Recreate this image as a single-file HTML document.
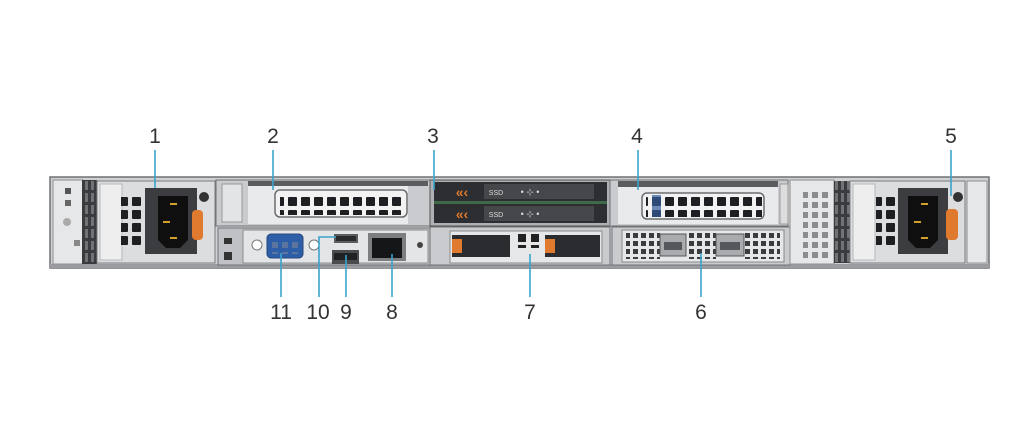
<!DOCTYPE html>
<html><head><meta charset="utf-8"><style>
html,body{margin:0;padding:0;background:#fff;}
svg{display:block;}
text{font-family:"Liberation Sans",sans-serif;font-size:21px;fill:#333;text-anchor:middle;}
</style></head><body>
<svg width="1024" height="427" viewBox="0 0 1024 427" xmlns="http://www.w3.org/2000/svg">
<defs>
<pattern id="g1" x="0" y="0" width="13" height="13" patternUnits="userSpaceOnUse"><rect x="2" y="2" width="9" height="9" rx="1" fill="#1e1f22"/></pattern>
<pattern id="g2" x="0" y="0" width="8" height="8" patternUnits="userSpaceOnUse"><rect x="1" y="1" width="5" height="5" fill="#3a3c40"/></pattern>
<pattern id="g3" x="0" y="0" width="14" height="14" patternUnits="userSpaceOnUse"><rect x="2" y="2" width="10" height="10" fill="#202226"/></pattern>
<pattern id="g4" x="0" y="0" width="10" height="10" patternUnits="userSpaceOnUse"><rect x="2" y="2" width="6" height="6" fill="#8a8c90"/></pattern>
<pattern id="vent" x="0" y="0" width="6" height="12" patternUnits="userSpaceOnUse"><rect width="6" height="12" fill="#3a3b3e"/><rect x="1" y="1" width="3" height="9" fill="#707276"/></pattern>
</defs>
<!-- chassis -->
<rect x="50" y="177" width="939" height="91" fill="#cfd1d3" stroke="#6f7174" stroke-width="1.5"/>
<rect x="50" y="264" width="939" height="4" fill="#9a9c9f"/>
<!-- left end -->
<rect x="53" y="180" width="30" height="84" fill="#e6e7e8" stroke="#8d8f92"/>
<rect x="82" y="180" width="15" height="84" fill="url(#vent)"/>
<rect x="65" y="188" width="6" height="6" fill="#555"/><rect x="65" y="200" width="6" height="6" fill="#666"/>
<circle cx="67" cy="222" r="4" fill="#aaa"/><rect x="74" y="240" width="6" height="6" fill="#888"/>
<!-- PSU1 -->
<rect x="97" y="181" width="118" height="82" fill="#dcdddf" stroke="#7a7c7f"/>
<rect x="100" y="184" width="22" height="76" fill="#eeeeef" stroke="#b6b8ba"/>
<rect x="121" y="196" width="26" height="52" fill="url(#g1)"/>
<rect x="145" y="188" width="52" height="66" fill="#3c3d40"/>
<path d="M158 196 H188 V240 L180 248 H166 L158 240 Z" fill="#0f0f10"/>
<rect x="170" y="203" width="7" height="2" fill="#d4a02a"/><rect x="163" y="221" width="7" height="2" fill="#d4a02a"/><rect x="170" y="237" width="7" height="2" fill="#d4a02a"/>
<rect x="192" y="210" width="11" height="30" rx="4" fill="#e07a2e"/>
<circle cx="204" cy="197" r="5" fill="#333"/>
<!-- slot 2 -->
<rect x="216" y="180" width="214" height="46" fill="#c9cbce" stroke="#6f7174"/>
<rect x="222" y="184" width="20" height="38" fill="#e3e4e5" stroke="#999"/>
<rect x="248" y="181" width="180" height="5" fill="#5a5c60"/>
<rect x="248" y="186" width="160" height="38" fill="#e9eaeb"/>
<rect x="275" y="190" width="132" height="27" rx="5" fill="#f2f2f3" stroke="#6a6c70" stroke-width="1.5"/>
<rect x="280" y="193" width="124" height="22" fill="url(#g1)"/>
<!-- IO panel -->
<rect x="218" y="228" width="212" height="37" fill="#bfc1c4" stroke="#6f7174"/>
<rect x="243" y="230" width="185" height="33" fill="#e4e5e6" stroke="#8a8c8f"/>
<circle cx="257" cy="245" r="5" fill="#fff" stroke="#777"/><circle cx="314" cy="245" r="5" fill="#fff" stroke="#777"/>
<rect x="267" y="234" width="36" height="24" rx="4" fill="#2f5ea8" stroke="#27477a"/>
<rect x="271" y="238" width="28" height="16" fill="url(#g4)" opacity=".5"/>
<rect x="334" y="234" width="24" height="9" fill="#5b5d60"/><rect x="336" y="236" width="20" height="5" fill="#2a2b2d"/>
<rect x="332" y="250" width="27" height="14" fill="#4a4c4f"/><rect x="334" y="253" width="23" height="7" fill="#202123"/>
<rect x="368" y="233" width="38" height="28" fill="#7c7e80"/><rect x="372" y="238" width="30" height="20" fill="#151617"/>
<circle cx="420" cy="245" r="3" fill="#444"/>
<rect x="224" y="238" width="8" height="6" fill="#333"/><rect x="224" y="252" width="8" height="8" fill="#333"/>
<!-- drives -->
<rect x="430" y="180" width="180" height="46" fill="#aeb0b3" stroke="#555"/>
<rect x="434" y="182" width="173" height="19" fill="#2d2e31"/>
<rect x="434" y="204" width="173" height="19" fill="#2d2e31"/>
<rect x="434" y="201" width="173" height="3" fill="#3f6a49"/>
<rect x="484" y="184" width="110" height="15" fill="#45474b"/><rect x="484" y="206" width="110" height="15" fill="#45474b"/>
<text x="496" y="195" style="font-size:7px;fill:#ddd">SSD</text><text x="496" y="217" style="font-size:7px;fill:#ddd">SSD</text>
<text x="530" y="195" style="font-size:9px;fill:#ddd">• ⊹ •</text><text x="530" y="217" style="font-size:9px;fill:#ddd">• ⊹ •</text>
<text x="462" y="197" style="font-size:14px;fill:#e07a2e;font-weight:bold">«‹</text>
<text x="462" y="219" style="font-size:14px;fill:#e07a2e;font-weight:bold">«‹</text>
<!-- BOSS slot 7 -->
<rect x="430" y="227" width="180" height="38" fill="#c9cbce" stroke="#6f7174"/>
<rect x="450" y="231" width="152" height="32" fill="#e6e7e8" stroke="#888"/>
<rect x="452" y="235" width="58" height="22" fill="#2b2c2f"/><rect x="452" y="239" width="10" height="14" fill="#e07a2e"/>
<rect x="545" y="235" width="55" height="22" fill="#2b2c2f"/><rect x="545" y="239" width="10" height="14" fill="#e07a2e"/>
<rect x="518" y="234" width="8" height="8" fill="#222"/><rect x="531" y="234" width="8" height="8" fill="#222"/>
<rect x="518" y="245" width="8" height="3" fill="#222"/><rect x="531" y="245" width="8" height="3" fill="#222"/>
<!-- slot 4 -->
<rect x="610" y="180" width="178" height="46" fill="#c9cbce" stroke="#6f7174"/>
<rect x="618" y="181" width="160" height="6" fill="#5a5c60"/>
<rect x="618" y="187" width="160" height="37" fill="#e9eaeb"/>
<rect x="642" y="193" width="122" height="26" rx="5" fill="#f2f2f3" stroke="#6a6c70" stroke-width="1.5"/>
<rect x="646" y="195" width="116" height="22" fill="url(#g1)"/>
<rect x="652" y="195" width="9" height="22" fill="#355d9e" opacity=".7"/>
<rect x="780" y="184" width="8" height="40" fill="#ddd" stroke="#999"/>
<!-- OCP slot 6 -->
<rect x="612" y="227" width="178" height="38" fill="#c9cbce" stroke="#6f7174"/>
<rect x="622" y="230" width="162" height="32" fill="#e6e7e8" stroke="#888"/>
<rect x="626" y="233" width="34" height="26" fill="url(#g2)"/>
<rect x="686" y="233" width="30" height="26" fill="url(#g2)"/>
<rect x="744" y="233" width="36" height="26" fill="url(#g2)"/>
<rect x="660" y="234" width="26" height="22" fill="#a9abae" stroke="#555"/><rect x="664" y="242" width="18" height="8" fill="#55575a"/>
<rect x="716" y="234" width="28" height="22" fill="#a9abae" stroke="#555"/><rect x="720" y="242" width="20" height="8" fill="#55575a"/>
<!-- right vents -->
<rect x="790" y="180" width="44" height="84" fill="#e6e7e8" stroke="#8d8f92"/>
<rect x="803" y="190" width="26" height="68" fill="url(#g4)"/>
<rect x="834" y="181" width="16" height="82" fill="url(#vent)"/>
<!-- PSU2 -->
<rect x="850" y="181" width="115" height="82" fill="#dcdddf" stroke="#7a7c7f"/>
<rect x="853" y="184" width="22" height="76" fill="#eeeeef" stroke="#b6b8ba"/>
<rect x="876" y="196" width="24" height="52" fill="url(#g1)"/>
<rect x="898" y="188" width="50" height="66" fill="#3c3d40"/>
<path d="M908 196 H938 V240 L930 248 H916 L908 240 Z" fill="#0f0f10"/>
<rect x="921" y="203" width="7" height="2" fill="#d4a02a"/><rect x="914" y="221" width="7" height="2" fill="#d4a02a"/><rect x="921" y="237" width="7" height="2" fill="#d4a02a"/>
<rect x="946" y="209" width="12" height="31" rx="4" fill="#e07a2e"/>
<circle cx="958" cy="197" r="5" fill="#333"/>
<rect x="967" y="181" width="20" height="82" fill="#e6e7e8" stroke="#8d8f92"/>
<!-- leaders -->
<g stroke="#3aa3cc" stroke-width="1.6" fill="none">
<line x1="155" y1="150" x2="155" y2="188"/>
<line x1="273" y1="150" x2="273" y2="190"/>
<line x1="434" y1="150" x2="434" y2="190"/>
<line x1="638" y1="150" x2="638" y2="190"/>
<line x1="951" y1="150" x2="951" y2="196"/>
<line x1="281" y1="253" x2="281" y2="297"/>
<polyline points="319,297 319,237 336,237"/>
<line x1="346" y1="255" x2="346" y2="297"/>
<line x1="392" y1="254" x2="392" y2="297"/>
<line x1="530" y1="254" x2="530" y2="297"/>
<line x1="701" y1="253" x2="701" y2="297"/>
</g>
<text x="155" y="143">1</text><text x="273" y="143">2</text><text x="433" y="143">3</text>
<text x="637" y="143">4</text><text x="951" y="143">5</text>
<text x="281" y="319">11</text><text x="318" y="319">10</text><text x="346" y="319">9</text>
<text x="392" y="319">8</text><text x="530" y="319">7</text><text x="701" y="319">6</text>
</svg>
</body></html>
